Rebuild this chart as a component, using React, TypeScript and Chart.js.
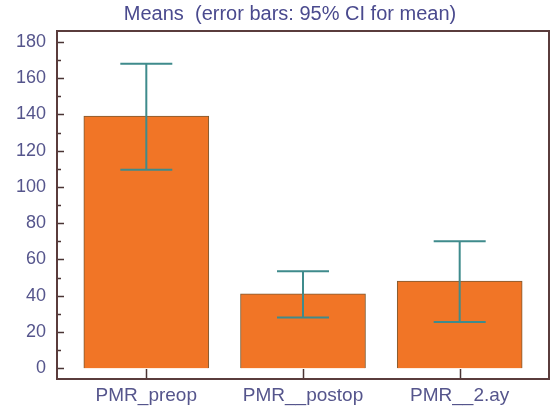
import React, { useEffect, useRef } from "react";
import { Chart, registerables } from "chart.js";

Chart.register(...registerables);

const categories = ["PMR_preop", "PMR__postop", "PMR__2.ay"];
const means = [139, 41, 48];
const ciLow = [109.5, 28, 25.5];
const ciHigh = [168, 53.5, 70];
const yTicks = [0, 20, 40, 60, 80, 100, 120, 140, 160, 180];
const yMinorTicks = [10, 30, 50, 70, 90, 110, 130, 150, 170];
const titleText = "Means  (error bars: 95% CI for mean)";

const FONT = "'Liberation Sans', Arial, sans-serif";

const decorPlugin = {
  id: "decor",
  afterLayout(chart: any) {
    const tb = chart.titleBlock;
    if (tb) {
      tb.left = 31;
      tb.right = 549;
    }
  },
  afterDatasetsDraw(chart: any) {
    const { ctx, chartArea, scales } = chart;
    const x = scales.x;
    const y = scales.y;
    ctx.save();
    // error bars
    ctx.strokeStyle = "#3f8b8c";
    ctx.lineWidth = 2;
    const cap = 26;
    for (let i = 0; i < categories.length; i++) {
      const cx = x.getPixelForValue(i);
      const yl = y.getPixelForValue(ciLow[i]);
      const yh = y.getPixelForValue(ciHigh[i]);
      ctx.beginPath();
      ctx.moveTo(cx, yl);
      ctx.lineTo(cx, yh);
      ctx.moveTo(cx - cap, yh);
      ctx.lineTo(cx + cap, yh);
      ctx.moveTo(cx - cap, yl);
      ctx.lineTo(cx + cap, yl);
      ctx.stroke();
    }
    // inward ticks
    ctx.strokeStyle = "#4a3434";
    ctx.lineWidth = 1.5;
    ctx.beginPath();
    for (const v of yTicks) {
      const py = Math.round(y.getPixelForValue(v)) + 0.5;
      ctx.moveTo(chartArea.left, py);
      ctx.lineTo(chartArea.left + 7, py);
    }
    for (const v of yMinorTicks) {
      const py = Math.round(y.getPixelForValue(v)) + 0.5;
      ctx.moveTo(chartArea.left, py);
      ctx.lineTo(chartArea.left + 4, py);
    }
    for (let i = 0; i < categories.length; i++) {
      const px = Math.round(x.getPixelForValue(i)) + 0.5;
      ctx.moveTo(px, chartArea.bottom);
      ctx.lineTo(px, chartArea.bottom - 10);
    }
    ctx.stroke();
    // frame
    ctx.strokeStyle = "#5a3c3c";
    ctx.lineWidth = 2;
    ctx.strokeRect(
      chartArea.left,
      chartArea.top,
      chartArea.right - chartArea.left,
      chartArea.bottom - chartArea.top
    );
    ctx.restore();
  },
};

export default function App() {
  const ref = useRef<HTMLCanvasElement | null>(null);
  useEffect(() => {
    document.body.style.margin = "0";
    const canvas = ref.current;
    if (!canvas) return;
    const chart = new Chart(canvas, {
      type: "bar",
      data: {
        datasets: [
          {
            data: means.map((m, i) => ({ x: i, y: m })),
            backgroundColor: "#f17526",
            borderColor: "#7d5a32",
            borderWidth: 1,
            barThickness: 125,
          },
        ],
      },
      options: {
        animation: false,
        responsive: false,
        devicePixelRatio: 1,
        layout: { padding: { left: 0, right: 11, top: 0, bottom: 0 } },
        plugins: {
          legend: { display: false },
          tooltip: { enabled: false },
          title: {
            display: true,
            text: titleText,
            color: "#4a4a8e",
            font: { family: FONT, size: 20, weight: "normal", lineHeight: 1.1 },
            padding: { top: 3, bottom: 6 },
          },
        },
        scales: {
          x: {
            type: "linear",
            offset: false,
            min: -0.57,
            max: 2.57,
            grid: { display: false, drawTicks: false },
            border: { display: false },
            afterBuildTicks: (s: any) => {
              s.ticks = categories.map((_, i) => ({ value: i }));
            },
            afterFit: (s: any) => {
              s.height = 31;
            },
            ticks: {
              autoSkip: false,
              maxRotation: 0,
              padding: 5,
              color: "#55558c",
              font: { family: FONT, size: 19 },
              callback: (v: any) => categories[v as number] ?? "",
            },
          },
          y: {
            min: -6,
            max: 186,
            grid: { display: false, drawTicks: false },
            border: { display: false },
            afterBuildTicks: (s: any) => {
              s.ticks = yTicks.map((v) => ({ value: v }));
            },
            afterFit: (s: any) => {
              s.width = 57;
            },
            ticks: {
              padding: 11,
              color: "#55558c",
              font: { family: FONT, size: 18 },
            },
          },
        },
      },
      plugins: [decorPlugin],
    } as any);
    return () => chart.destroy();
  }, []);
  return (
    <div style={{ width: 560, height: 410 }}>
      <canvas ref={ref} width={560} height={410} style={{ display: "block" }} />
    </div>
  );
}
